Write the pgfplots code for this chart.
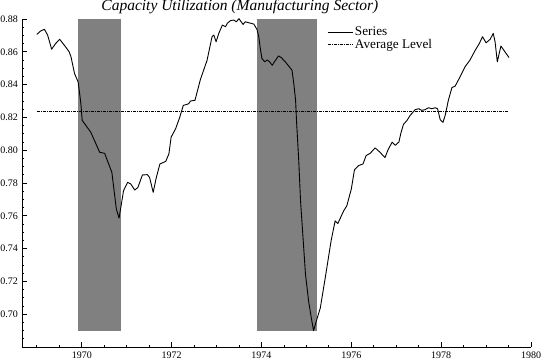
\documentclass[border=0pt]{standalone}
\usepackage{fontspec}
\setmainfont{Liberation Serif}
\usepackage{pgfplots}
\pgfplotsset{compat=1.18}
\definecolor{shade}{RGB}{128,128,128}
\begin{document}
\begin{tikzpicture}
\begin{axis}[
  at={(0pt,0pt)}, anchor=south west,
  scale only axis,
  width=509pt, height=328pt,
  xmin=1968.67, xmax=1980,
  ymin=0.68, ymax=0.88,
  axis x line*=bottom, axis y line*=left,
  axis line style={line width=0.8pt},
  tick align=inside,
  major tick length=5.5pt, minor tick length=2.5pt,
  every tick/.style={black, line width=0.7pt},
  xtick={1970,1972,1974,1976,1978,1980},
  xticklabels={1970,1972,1974,1976,1978,1980},
  minor xtick={1969,1969.5,1970.5,1971,1971.5,1972.5,1973,1973.5,1974.5,1975,1975.5,1976.5,1977,1977.5,1978.5,1979,1979.5},
  ytick={0.70,0.72,0.74,0.76,0.78,0.80,0.82,0.84,0.86,0.88},
  yticklabels={0.70,0.72,0.74,0.76,0.78,0.80,0.82,0.84,0.86,0.88},
  minor ytick={0.685,0.69,0.695,0.705,0.71,0.715,0.725,0.73,0.735,0.745,0.75,0.755,0.765,0.77,0.775,0.785,0.79,0.795,0.805,0.81,0.815,0.825,0.83,0.835,0.845,0.85,0.855,0.865,0.87,0.875},
  ticklabel style={font=\fontsize{10}{11}\selectfont},
  xticklabel style={inner sep=0pt, yshift=-4.5pt},
  yticklabel style={inner sep=0pt, xshift=-4pt},
  every axis title shift=0pt,
  title={\itshape Capacity Utilization (Manufacturing Sector)},
  title style={at={(0.428,1)}, anchor=base, inner sep=0pt, yshift=8pt, font=\fontsize{15.5}{16}\selectfont},
  legend style={draw=none, fill=none, at={(0.599,0.982)}, anchor=north west,
    font=\fontsize{13.2}{14}\selectfont, inner sep=0pt, row sep=-2.5pt,
    /tikz/every even column/.append style={column sep=0pt}},
  legend cell align=left,
  legend image code/.code={\draw[#1] (0pt,0pt) -- (25pt,0pt);},
  clip=false,
]
\addplot[fill=shade, draw=none, forget plot] coordinates {(1969.92,0.69) (1970.87,0.69) (1970.87,0.88) (1969.92,0.88)} -- cycle;
\addplot[fill=shade, draw=none, forget plot] coordinates {(1973.91,0.69) (1975.24,0.69) (1975.24,0.88) (1973.91,0.88)} -- cycle;
\addplot[black, line width=0.9pt, line join=round] table {
1969.00 0.8706
1969.09 0.8728
1969.17 0.8737
1969.24 0.8702
1969.33 0.8616
1969.42 0.8651
1969.51 0.8676
1969.64 0.8630
1969.72 0.8600
1969.76 0.8570
1969.84 0.8467
1969.92 0.8416
1969.98 0.8286
1970.01 0.8182
1970.20 0.8110
1970.40 0.7987
1970.51 0.7981
1970.57 0.7937
1970.67 0.7865
1970.72 0.7753
1970.77 0.7641
1970.83 0.7586
1970.87 0.7651
1970.93 0.7753
1971.02 0.7804
1971.09 0.7794
1971.18 0.7757
1971.25 0.7773
1971.35 0.7849
1971.46 0.7851
1971.51 0.7834
1971.59 0.7743
1971.66 0.7834
1971.74 0.7916
1971.87 0.7932
1971.94 0.7978
1971.99 0.8080
1972.09 0.8131
1972.18 0.8200
1972.26 0.8273
1972.38 0.8283
1972.42 0.8300
1972.52 0.8304
1972.64 0.8430
1972.79 0.8549
1972.90 0.8692
1972.94 0.8702
1972.99 0.8661
1973.05 0.8712
1973.13 0.8763
1973.20 0.8753
1973.24 0.8774
1973.31 0.8790
1973.38 0.8794
1973.44 0.8783
1973.50 0.8802
1973.53 0.8790
1973.59 0.8767
1973.64 0.8783
1973.72 0.8777
1973.83 0.8769
1973.90 0.8737
1973.94 0.8692
1973.98 0.8610
1974.01 0.8560
1974.07 0.8539
1974.13 0.8550
1974.18 0.8539
1974.24 0.8518
1974.29 0.8539
1974.38 0.8575
1974.44 0.8565
1974.53 0.8539
1974.61 0.8512
1974.68 0.8488
1974.72 0.8406
1974.76 0.8304
1974.78 0.8182
1974.83 0.7937
1974.87 0.7692
1974.93 0.7447
1974.98 0.7243
1975.05 0.7079
1975.11 0.6977
1975.16 0.6900
1975.22 0.6957
1975.31 0.7038
1975.42 0.7222
1975.55 0.7447
1975.64 0.7569
1975.70 0.7553
1975.83 0.7630
1975.90 0.7661
1976.00 0.7763
1976.07 0.7880
1976.16 0.7906
1976.26 0.7916
1976.33 0.7967
1976.42 0.7981
1976.53 0.8014
1976.58 0.8002
1976.64 0.7987
1976.75 0.7955
1976.82 0.8004
1976.91 0.8049
1976.98 0.8030
1977.06 0.8050
1977.10 0.8100
1977.16 0.8157
1977.24 0.8182
1977.31 0.8212
1977.42 0.8247
1977.50 0.8253
1977.57 0.8243
1977.64 0.8247
1977.72 0.8259
1977.79 0.8253
1977.87 0.8259
1977.92 0.8253
1977.98 0.8185
1978.04 0.8170
1978.09 0.8212
1978.16 0.8304
1978.24 0.8382
1978.31 0.8390
1978.42 0.8447
1978.53 0.8508
1978.64 0.8549
1978.76 0.8610
1978.85 0.8651
1978.92 0.8692
1979.00 0.8655
1979.09 0.8676
1979.16 0.8712
1979.20 0.8661
1979.25 0.8539
1979.33 0.8635
1979.42 0.8600
1979.51 0.8565
};
\addlegendentry{Series}
\addplot[black, line width=0.6pt, dash pattern=on 3pt off 1pt on 1pt off 1pt] coordinates {(1969.0,0.8237) (1979.5,0.8237)};
\addlegendentry{Average Level}
\end{axis}
\pgfresetboundingbox
\path[use as bounding box] (-22pt,-12.3pt) rectangle (521pt,347pt);
\end{tikzpicture}
\end{document}
